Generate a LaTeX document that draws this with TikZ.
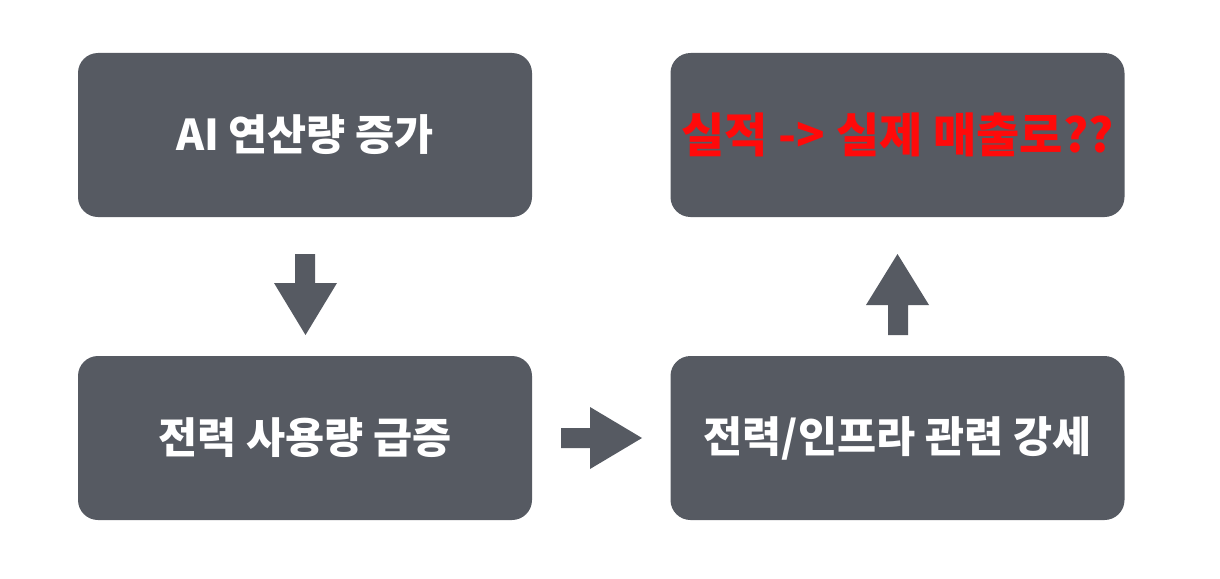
\documentclass[tikz,border=0pt]{standalone}
\usepackage{fontspec}
\newfontfamily\kr{Noto Sans CJK KR}
\newfontfamily\krblack{Noto Sans CJK KR Black}
\definecolor{boxgray}{HTML}{565A62}
\definecolor{redtxt}{HTML}{FF0A0A}
\tikzset{
  flowbox/.style={fill=boxgray, draw=none, rounded corners=20pt, minimum width=454pt, minimum height=164pt, inner sep=0pt, text=white, font=\kr\bfseries\fontsize{42.5}{48}\selectfont},
  redlabel/.style={text=redtxt, font=\krblack\fontsize{47}{52}\selectfont},
  blockarrow/.style={fill=boxgray, draw=none}
}
\begin{document}
\begin{tikzpicture}[x=1pt,y=-1pt]
\useasboundingbox (0,0) rectangle (1220,578);
\node[flowbox] (a) at (305,135) {AI 연산량 증가};
\node[flowbox, redlabel] (b) at (897.5,135) {실적 -> 실제 매출로??};
\node[flowbox] (c) at (305,438) {전력 사용량 급증};
\node[flowbox] (d) at (897.5,438) {전력/인프라 관련 강세};
% down arrow
\fill[blockarrow] (295,254) -- (315,254) -- (315,283) -- (337,283) -- (305.5,335) -- (274,283) -- (295,283) -- cycle;
% right arrow
\fill[blockarrow] (561,428) -- (590,428) -- (590,407) -- (642,438) -- (590,469) -- (590,448) -- (561,448) -- cycle;
% up arrow
\fill[blockarrow] (888,335) -- (908,335) -- (908,305) -- (929,305) -- (897.5,254) -- (866,305) -- (888,305) -- cycle;
\end{tikzpicture}
\end{document}
